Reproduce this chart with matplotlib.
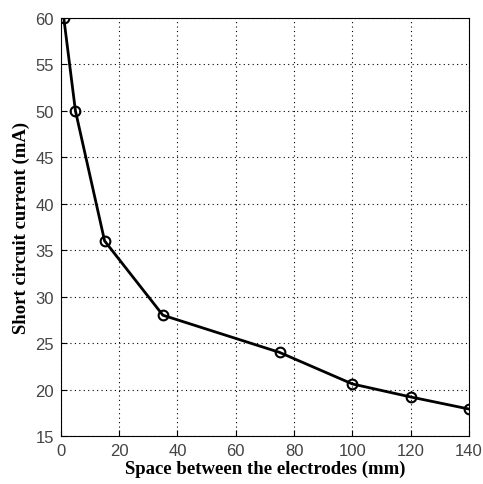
import matplotlib
matplotlib.use("Agg")
import matplotlib.pyplot as plt

spacing_mm = [1, 5, 15, 35, 75, 100, 120, 140]
current_ma = [60, 50, 36, 28, 24, 20.6, 19.2, 17.9]
x_ticks = [0, 20, 40, 60, 80, 100, 120, 140]
y_ticks = [15, 20, 25, 30, 35, 40, 45, 50, 55, 60]

fig = plt.figure(figsize=(4.83, 4.85), dpi=100)
ax = fig.add_axes([0.126, 0.099, 0.845, 0.862])

ax.plot(spacing_mm, current_ma, color="black", linewidth=2, marker="o",
        markersize=7, markerfacecolor="none", markeredgewidth=1.5)

ax.set_xlim(0, 140)
ax.set_ylim(15, 60)
ax.set_xticks(x_ticks)
ax.set_yticks(y_ticks)
ax.grid(True, color="black", linestyle=(0, (1, 3)), linewidth=0.8)
ax.set_axisbelow(True)

for lbl in ax.get_xticklabels() + ax.get_yticklabels():
    lbl.set_fontfamily("Liberation Sans")
    lbl.set_fontsize(12)
    lbl.set_color("#444444")
ax.tick_params(direction="in", length=4, width=0.8, pad=5)

ax.set_xlabel("Space between the electrodes (mm)", fontfamily="Liberation Serif",
              fontweight="bold", fontsize=13.5, labelpad=1)
ax.set_ylabel("Short circuit current (mA)", fontfamily="Liberation Serif",
              fontweight="bold", fontsize=13.5, labelpad=4)

fig.savefig("out.png", dpi=100)
